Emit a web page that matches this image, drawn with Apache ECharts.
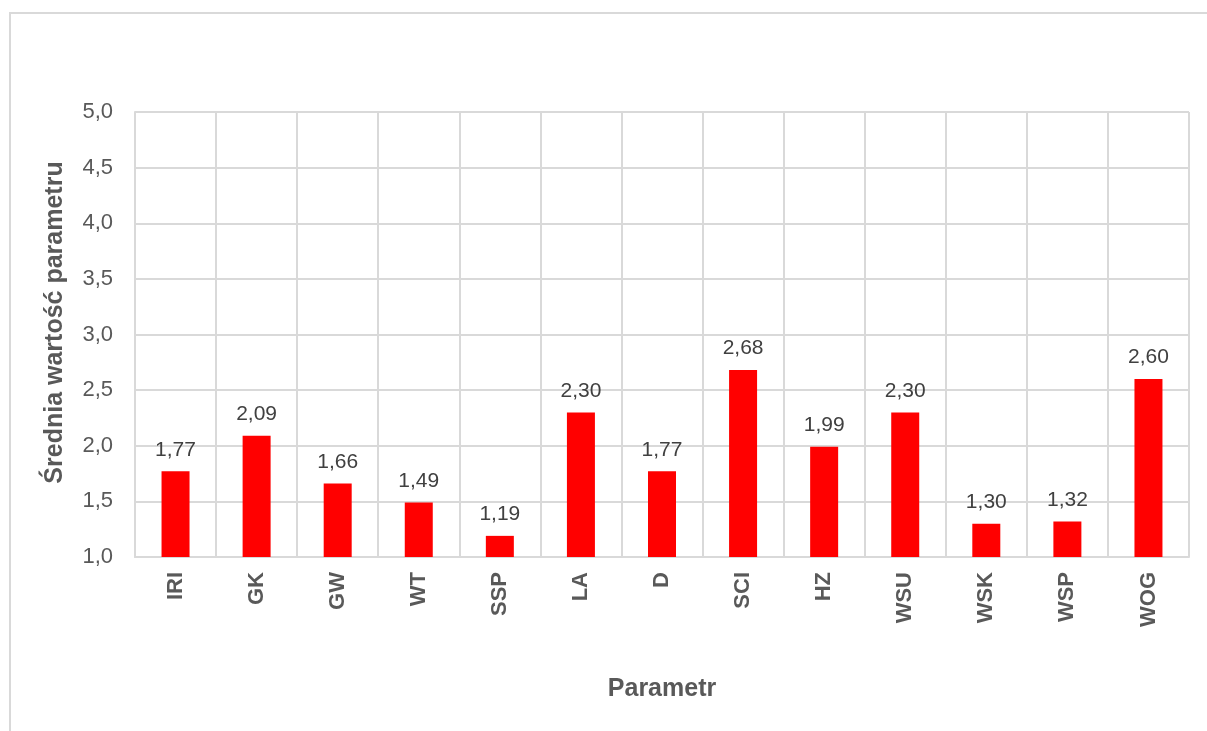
<!DOCTYPE html>
<html><head><meta charset="utf-8">
<script src="https://cdn.jsdelivr.net/npm/echarts@6/dist/echarts.min.js"></script>
<style>
html,body{margin:0;padding:0;background:#fff;}
#frame{position:absolute;left:9px;top:12px;width:1210px;height:730px;border:2px solid #d9d9d9;box-sizing:border-box;}
#c{position:absolute;left:0;top:0;width:1207px;height:731px;}
</style></head>
<body>
<div id="frame"></div>
<div id="c"></div>
<script>
const categories = ['IRI','GK','GW','WT','SSP','LA','D','SCI','HZ','WSU','WSK','WSP','WOG'];
const values = [1.77, 2.09, 1.66, 1.49, 1.19, 2.30, 1.77, 2.68, 1.99, 2.30, 1.30, 1.32, 2.60];
const yTitle = 'Średnia wartość parametru';
const xTitle = 'Parametr';

const chart = echarts.init(document.getElementById('c'), null, {renderer:'canvas'});
const font = 'Liberation Sans, Arial, sans-serif';
chart.setOption({
  animation:false,
  backgroundColor:'transparent',
  grid:{left:135,right:18,top:112,bottom:174,containLabel:false},
  xAxis:{
    type:'category', data:categories,
    name:xTitle, nameLocation:'middle', nameGap:120,
    nameTextStyle:{fontFamily:font,fontSize:25,fontWeight:'bold',color:'#595959'},
    axisLine:{show:true,lineStyle:{color:'#d9d9d9',width:2}},
    axisTick:{show:false},
    splitLine:{show:true,lineStyle:{color:'#d9d9d9',width:2}},
    axisLabel:{rotate:90,margin:15,fontFamily:font,fontSize:22,fontWeight:'bold',color:'#595959',interval:0}
  },
  yAxis:{
    type:'value', min:1, max:5, interval:0.5,
    name:yTitle, nameLocation:'middle', nameGap:67,
    nameTextStyle:{fontFamily:font,fontSize:25,fontWeight:'bold',color:'#595959',padding:[0,0,0,24]},
    axisLine:{show:true,lineStyle:{color:'#d9d9d9',width:2}},
    axisTick:{show:false},
    splitLine:{show:true,lineStyle:{color:'#d9d9d9',width:2}},
    axisLabel:{margin:22,fontFamily:font,fontSize:22,color:'#595959',
      formatter:v=>v.toFixed(1).replace('.',',')}
  },
  series:[{
    type:'bar', data:values, barWidth:28,
    itemStyle:{color:'#ff0000'},
    label:{show:true,position:'top',distance:11,fontFamily:font,fontSize:21,color:'#404040',
      formatter:p=>p.value.toFixed(2).replace('.',',')}
  }]
});
</script>
</body></html>
